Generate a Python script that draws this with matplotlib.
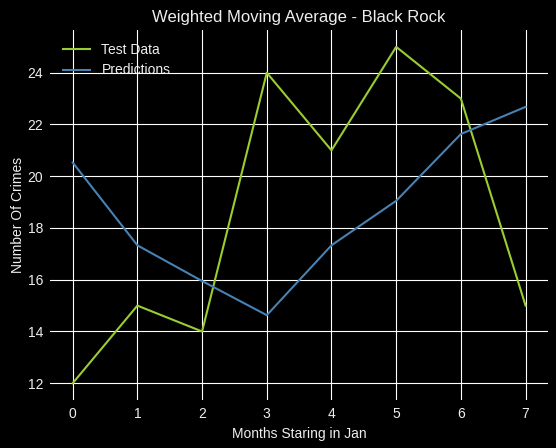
import numpy as np
from matplotlib import pyplot as plt

# values
months = [0, 1, 2, 3, 4, 5, 6, 7]
test_data = [12, 15, 14, 24, 21, 25, 23, 15]
predictions = [20.53, 17.33, 15.95, 14.63, 17.33, 19.05, 21.63, 22.68]

plt.style.use('dark_background')
plt.rcParams['font.family'] = ['Liberation Sans', 'DejaVu Sans']
plt.rcParams['text.color'] = '#eeeeee'
plt.rcParams['axes.labelcolor'] = '#eeeeee'
plt.rcParams['xtick.color'] = '#eeeeee'
plt.rcParams['ytick.color'] = '#eeeeee'

fig, ax = plt.subplots(figsize=(5.56, 4.48), dpi=100)
fig.subplots_adjust(left=0.09, right=0.986, top=0.933, bottom=0.107)

ax.plot(months, test_data, color='yellowgreen', label='Test Data', lw=1.5)
ax.plot(months, predictions, color='steelblue', label='Predictions', lw=1.5)

ax.set_title("Weighted Moving Average - Black Rock", fontsize=12)
ax.set_xlabel("Months Staring in Jan", fontsize=10)
ax.set_ylabel("Number Of Crimes", fontsize=10, labelpad=2)

ax.grid(True, color='white', lw=0.8)
for s in ax.spines.values():
    s.set_visible(False)
ax.tick_params(length=0, labelsize=10, pad=5)

leg = ax.legend(loc='upper left', frameon=False, fontsize=10)

fig.savefig('out.png', dpi=100)
